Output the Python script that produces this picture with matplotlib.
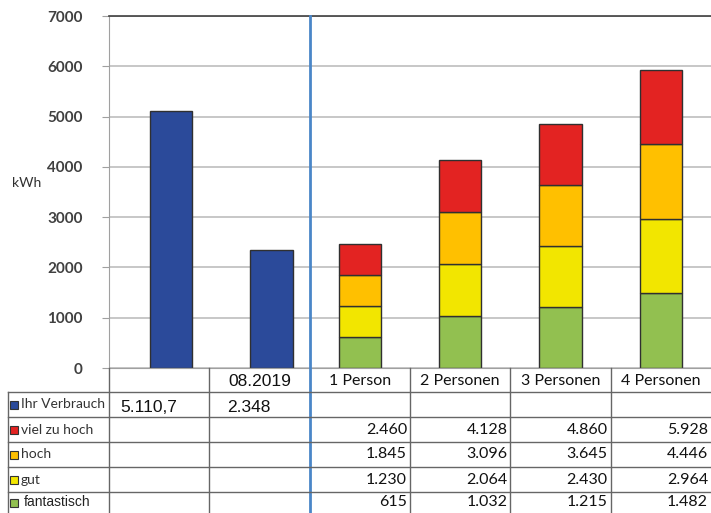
import matplotlib.pyplot as plt
import numpy as np

# --- data ---------------------------------------------------------------
categories = ["", "08.2019", "1 Person", "2 Personen", "3 Personen", "4 Personen"]
verbrauch = [5110.7, 2348]
verbrauch_labels = ["5.110,7", "2.348"]

# cumulative upper bounds per household size (as listed in the table)
viel_zu_hoch = [2460, 4128, 4860, 5928]
hoch = [1845, 3096, 3645, 4446]
gut = [1230, 2064, 2430, 2964]
fantastisch = [615, 1032, 1215, 1482]

row_names = ["Ihr Verbrauch", "viel zu hoch", "hoch", "gut", "fantastisch"]
row_colors = ["#2B4A9A", "#E32322", "#FFC000", "#F2E600", "#92C050"]

W, H = 711, 513
fig = plt.figure(figsize=(W / 100, H / 100), dpi=100)


def fx(px):
    return px / W


def fy(py):
    return 1 - py / H


ax_left, ax_right, ax_top, ax_bottom = 109, 711, 16, 368
ax = fig.add_axes([fx(ax_left), fy(ax_bottom), fx(ax_right - ax_left), (ax_bottom - ax_top) / H])
ax.set_xlim(-0.5, 5.5)
ax.set_ylim(0, 7000)

# grid
ax.set_yticks(np.arange(0, 7001, 1000))
ax.yaxis.grid(True, color="#bdbdbd", linewidth=1.2)
ax.set_axisbelow(True)
ax.set_xticks([])
ax.spines["right"].set_visible(False)
ax.spines["top"].set_color("#404040")
ax.spines["top"].set_linewidth(1.2)
ax.spines["left"].set_color("#a0a0a0")
ax.spines["bottom"].set_color("#a0a0a0")
ax.tick_params(axis="y", length=5, color="#a0a0a0", labelsize=11, labelcolor="#404040", pad=14)
for lab in ax.get_yticklabels():
    lab.set_fontfamily("Lato")
    lab.set_fontweight("bold")

bw = 0.42
edge = "#303030"
# Ihr Verbrauch bars (slightly offset as in the source chart)
ax.bar(np.arange(2) + 0.12, verbrauch, width=bw, color=row_colors[0], edgecolor=edge, linewidth=1)

# stacked comparison bars
levels = np.array([fantastisch, gut, hoch, viel_zu_hoch])
segs = np.vstack([levels[0], np.diff(levels, axis=0)])
seg_colors = [row_colors[4], row_colors[3], row_colors[2], row_colors[1]]
xs = np.arange(2, 6)
bottom = np.zeros(4)
for seg, c in zip(segs, seg_colors):
    ax.bar(xs, seg, bottom=bottom, width=bw, color=c, edgecolor=edge, linewidth=1)
    bottom += seg

# divider line
ax.axvline(1.5, ymin=-(H - ax_bottom) / (ax_bottom - ax_top), ymax=1,
           color="#4A86C8", linewidth=2, clip_on=False, zorder=5)

fig.text(fx(12), fy(183), "kWh", fontsize=10, fontfamily="Lato", color="#303030", va="center")

# --- data table ---------------------------------------------------------
col_edges = [ax.transData.transform((x, 0))[0] for x in np.arange(-0.5, 6, 1)]
row_edges = [368, 392, 417, 442, 467, 492]
line_kw = dict(color="#666666", linewidth=1)

# horizontal lines
for r in row_edges[1:]:
    fig.add_artist(plt.Line2D([fx(8), 1], [fy(r), fy(r)], **line_kw))
# vertical lines
fig.add_artist(plt.Line2D([fx(8), fx(8)], [fy(392), 0], **line_kw))
for cx in col_edges[:-1]:
    if abs(cx - col_edges[2]) < 1:
        continue
    fig.add_artist(plt.Line2D([fx(cx), fx(cx)], [fy(368), 0], **line_kw))

# header row
for i, cat in enumerate(categories):
    cx = (col_edges[i] + col_edges[i + 1]) / 2
    if i < 2:
        fig.text(fx(cx), fy(381), cat, fontsize=12.5, fontfamily="Liberation Sans",
                 ha="center", va="center", color="#111111")
    else:
        fig.text(fx(cx), fy(381), cat, fontsize=11.5, fontfamily="Lato",
                 ha="center", va="center", color="#111111")

# row labels with colour keys
for j, (name, c) in enumerate(zip(row_names, row_colors)):
    yc = (row_edges[j + 1] + (row_edges[j + 2] if j + 2 < len(row_edges) else 513)) / 2
    fig.add_artist(plt.Rectangle((fx(10), fy(yc + 4)), fx(8), 8 / H,
                                 facecolor=c, edgecolor="#333333", linewidth=0.8))
    if name == "fantastisch":
        fig.text(fx(24), fy(yc), name, fontsize=10, fontfamily="Liberation Sans",
                 va="center", color="#222222")
    else:
        fig.text(fx(21), fy(yc), name, fontsize=10, fontfamily="Lato",
                 va="center", color="#333333")

# Ihr Verbrauch values
for i, (txt, off) in enumerate(zip(verbrauch_labels, [11, 18])):
    fig.text(fx(col_edges[i] + off), fy(408), txt, fontsize=12.5,
             fontfamily="Liberation Sans", va="center", color="#111111")


def fmt(v):
    return f"{v:,}".replace(",", ".")


for j, vals in enumerate([viel_zu_hoch, hoch, gut, fantastisch]):
    y0 = row_edges[j + 2]
    y1 = row_edges[j + 3] if j + 3 < len(row_edges) else 513
    for k, v in enumerate(vals):
        fig.text(fx(col_edges[k + 3] - 3), fy((y0 + y1) / 2), fmt(v), fontsize=11.5,
                 fontfamily="Lato", ha="right", va="center", color="#111111")

fig.savefig("out.png", dpi=100)
